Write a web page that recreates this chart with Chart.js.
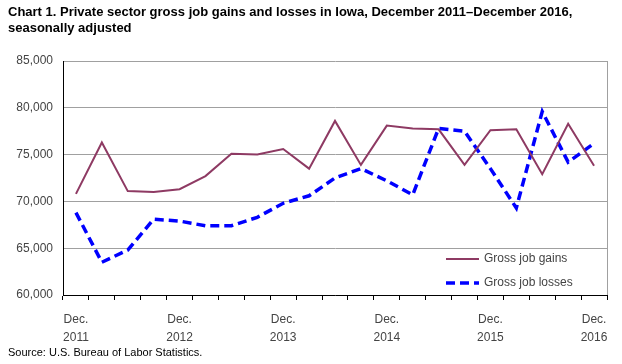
<!DOCTYPE html>
<html lang="en">
<head>
    <meta charset="UTF-8">
    <title>Iowa gross job gains and losses</title>
    <script src="https://cdn.jsdelivr.net/npm/chart.js@4.4.0/dist/chart.umd.min.js"></script>
    <style>
        body { margin: 0; background: #fff; }
        #wrap { position: relative; width: 622px; height: 364px; }
        #title { position: absolute; left: 8px; top: 4px; font: bold 13px 'Liberation Sans Narrow', 'Arial Narrow', Arial, sans-serif; color: #000; line-height: 16px; }
        #source { position: absolute; left: 8px; top: 346px; font: 11px 'Liberation Sans Narrow', 'Arial Narrow', Arial, sans-serif; color: #000; }
    </style>
</head>
<body>
<div id="wrap">
    <canvas id="chart" width="622" height="364"></canvas>
    <div id="title">Chart 1. Private sector gross job gains and losses in Iowa, December 2011–December 2016,<br>seasonally adjusted</div>
    <div id="source">Source: U.S. Bureau of Labor Statistics.</div>
</div>
<script>
    // quarterly, Dec 2011 .. Dec 2016
    const quarters = ['Dec. 2011','Mar. 2012','Jun. 2012','Sep. 2012','Dec. 2012','Mar. 2013','Jun. 2013','Sep. 2013',
        'Dec. 2013','Mar. 2014','Jun. 2014','Sep. 2014','Dec. 2014','Mar. 2015','Jun. 2015','Sep. 2015',
        'Dec. 2015','Mar. 2016','Jun. 2016','Sep. 2016','Dec. 2016'];
    const gains = [70800, 76300, 71100, 71000, 71300, 72700, 75100, 75000, 75600, 73500, 78600,
        73900, 78100, 77800, 77700, 73900, 77600, 77700, 72900, 78300, 73800];
    const losses = [68800, 63500, 64800, 68100, 67900, 67400, 67400, 68300, 69800, 70600, 72500,
        73500, 72200, 70700, 77800, 77500, 73500, 69300, 79600, 74200, 76200];
    const yTicks = [60000, 65000, 70000, 75000, 80000, 85000];

    // draws the gray right border and the in-plot legend
    const framePlugin = {
        id: 'frame',
        afterDraw(chart) {
            const { ctx, chartArea: a } = chart;
            ctx.save();
            ctx.strokeStyle = '#a0a0a0';
            ctx.lineWidth = 1;
            ctx.beginPath();
            ctx.moveTo(a.right + 0.5, a.top);
            ctx.lineTo(a.right + 0.5, a.bottom);
            ctx.stroke();

            ctx.font = '12px Arial, sans-serif';
            ctx.textBaseline = 'middle';
            chart.data.datasets.forEach((ds, i) => {
                const y = 259 + i * 24;
                ctx.strokeStyle = ds.borderColor;
                ctx.lineWidth = ds.borderWidth;
                ctx.setLineDash(ds.borderDash || []);
                ctx.beginPath();
                ctx.moveTo(446, y);
                ctx.lineTo(479, y);
                ctx.stroke();
                ctx.setLineDash([]);
                ctx.fillStyle = '#444';
                ctx.fillText(ds.label, 484, y);
            });
            ctx.restore();
        }
    };

    new Chart(document.getElementById('chart'), {
        type: 'line',
        data: {
            labels: quarters,
            datasets: [{
                label: 'Gross job gains',
                data: gains,
                borderColor: '#8e3a63',
                borderWidth: 2,
                pointRadius: 0,
                tension: 0
            }, {
                label: 'Gross job losses',
                data: losses,
                borderColor: '#0000ff',
                borderWidth: 3.5,
                borderDash: [9, 5],
                pointRadius: 0,
                tension: 0
            }]
        },
        options: {
            responsive: false,
            animation: false,
            layout: { padding: { left: 0, right: 15, top: 61, bottom: 0 } },
            plugins: { legend: { display: false }, tooltip: { enabled: false } },
            scales: {
                x: {
                    offset: true,
                    border: { color: '#000', width: 1 },
                    grid: { offset: true, drawOnChartArea: false, drawTicks: true, tickLength: 5, color: '#000' },
                    afterFit: s => { s.height = 69; },
                    ticks: {
                        autoSkip: false,
                        maxRotation: 0,
                        color: '#444',
                        font: { family: 'Arial, sans-serif', size: 12, lineHeight: 1.5 },
                        padding: 11,
                        callback: function (v, i) {
                            return i % 4 === 0 ? this.getLabelForValue(v).split(' ') : '';
                        }
                    }
                },
                y: {
                    min: 60000,
                    max: 85000,
                    afterFit: s => { s.width = 63; },
                    afterBuildTicks: s => { s.ticks = yTicks.map(v => ({ value: v })); },
                    border: { color: '#000', width: 1 },
                    grid: { color: '#a0a0a0', drawTicks: false },
                    ticks: {
                        color: '#444',
                        font: { family: 'Arial, sans-serif', size: 12 },
                        padding: 10,
                        callback: v => v.toLocaleString('en-US')
                    }
                }
            }
        },
        plugins: [framePlugin]
    });
</script>
</body>
</html>
